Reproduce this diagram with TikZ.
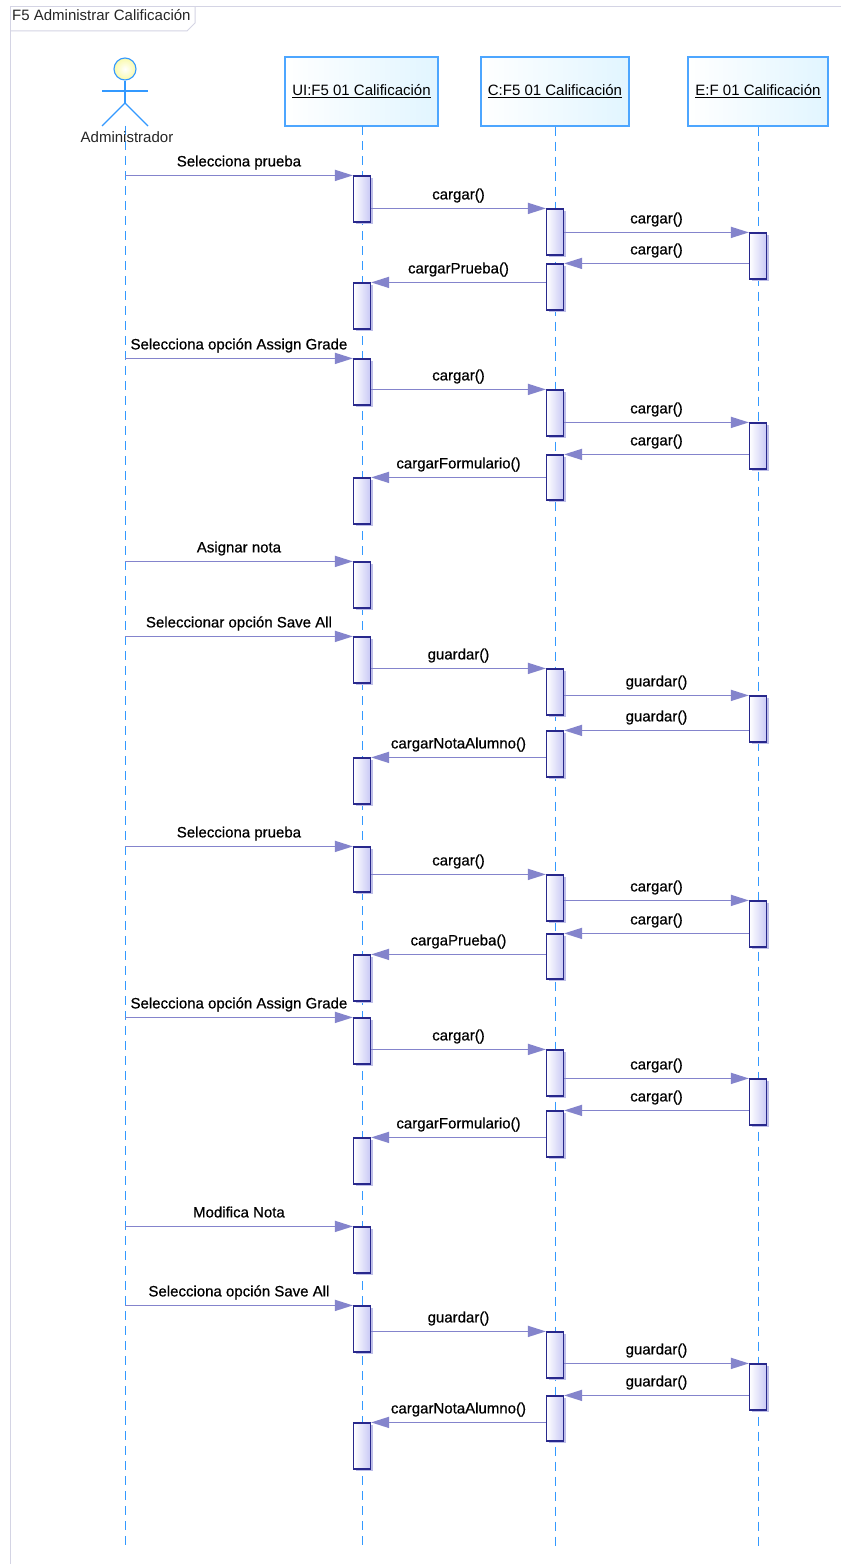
\documentclass[tikz,border=0pt]{standalone}
\usepackage{fontspec}
\setmainfont{Liberation Sans}
\newfontfamily\msgfont[FakeBold=0.6]{Liberation Sans}
\usetikzlibrary{arrows.meta,shadows,calc}
\definecolor{lifeblue}{RGB}{51,153,255}
\definecolor{boxblue}{RGB}{77,166,255}
\definecolor{msgc}{RGB}{132,132,204}
\definecolor{actborder}{RGB}{40,40,140}
\definecolor{actfill}{RGB}{200,200,245}
\definecolor{actshadow}{RGB}{190,190,232}
\definecolor{framec}{RGB}{212,212,228}
\definecolor{headfill}{RGB}{225,245,255}
\definecolor{headyellow}{RGB}{250,250,170}
\newcommand\actv[4]{\node[actbox, minimum height={(#4-#3)*1bp}] (#1) at (#2,{(#3+#4)/2}) {};}
\begin{document}
\begin{tikzpicture}[x=1bp,y=-1bp,
  every node/.style={font=\fontsize{15bp}{18bp}\selectfont},
  lifeline/.style={lifeblue, line width=1bp, dash pattern=on 9bp off 6bp},
  header/.style={draw=boxblue, line width=1.2bp, left color=white, right color=headfill, minimum width=#1, minimum height=69bp, inner sep=0pt},
  actbox/.style={draw=actborder, line width=1.2bp, left color=white, right color=actfill, minimum width=17bp, inner sep=0pt, drop shadow={shadow xshift=2bp, shadow yshift=-2bp, fill=actshadow, opacity=1}},
  msgline/.style={msgc, line width=1.5bp, -{Triangle[length=18bp,width=11bp]}},
  msglabel/.style={midway, anchor=base, yshift=9bp, text=black, inner sep=0pt, font=\msgfont\fontsize{15bp}{18bp}\selectfont},
  actorline/.style={lifeblue, line width=1.1bp},
]
\useasboundingbox[fill=white] (0,0) rectangle (840,1564);
% frame
\draw[framec, line width=1bp] (10,1570) -- (10,7) -- (845,7);
\draw[framec, line width=1bp] (10,31) -- (187,31) -- (195,23) -- (195,7);
\node[anchor=base west, text=black!85, inner sep=0pt] (title) at (12,21) {F5 Administrar Calificación};
\coordinate (bottom) at (0,1548);
% lifelines
\coordinate (admfoot) at (125,126);
\node[header=153bp] (ui) at (361.5,91.5) {\underline{UI:F5 01 Calificación}};
\node[header=148bp] (ctl) at (555,91.5) {\underline{C:F5 01 Calificación}};
\node[header=140bp] (ent) at (758,91.5) {\underline{E:F 01 Calificación}};
\coordinate (uil) at (362,126);
\draw[lifeline] (admfoot) -- (admfoot |- bottom);
\draw[lifeline] (uil) -- (uil |- bottom);
\draw[lifeline] (ctl.south) -- (ctl.south |- bottom);
\draw[lifeline] (ent.south) -- (ent.south |- bottom);
% actor
\node[circle, draw=lifeblue, line width=1.1bp, inner color=white, outer color=headyellow, minimum size=22bp, inner sep=0pt] (adm) at (125,69) {};
\coordinate (hip) at (125,103);
\draw[actorline] (adm.south) -- (hip);
\draw[actorline] (102,91) -- (148,91);
\draw[actorline] (102,126) -- (hip) -- (148,126);
\node[text=black!85, inner sep=0pt] (admlabel) at (127,137) {Administrador};
% activations
\actv{u1}{362}{176}{222}
\actv{c1}{555}{209}{255}
\actv{e1}{758}{233}{279}
\actv{c2}{555}{264}{310}
\actv{u2}{362}{283}{329}
\actv{u3}{362}{359}{405}
\actv{c3}{555}{390}{436}
\actv{e2}{758}{423}{469}
\actv{c4}{555}{455}{500}
\actv{u4}{362}{478}{524}
\actv{u5}{362}{562}{608}
\actv{u6}{362}{637}{683}
\actv{c5}{555}{669}{715}
\actv{e3}{758}{696}{742}
\actv{c6}{555}{731}{777}
\actv{u7}{362}{758}{804}
\actv{u8}{362}{847}{892}
\actv{c7}{555}{875}{921}
\actv{e4}{758}{901}{947}
\actv{c8}{555}{934}{979}
\actv{u9}{362}{955}{1001}
\actv{u10}{362}{1018}{1064}
\actv{c9}{555}{1050}{1096}
\actv{e5}{758}{1079}{1125}
\actv{c10}{555}{1111}{1157}
\actv{u11}{362}{1138}{1184}
\actv{u12}{362}{1227}{1273}
\actv{u13}{362}{1306}{1352}
\actv{c11}{555}{1332}{1378}
\actv{e6}{758}{1364}{1410}
\actv{c12}{555}{1396}{1441}
\actv{u14}{362}{1423}{1469}
% block 1
\draw[msgline] (admfoot |- u1.north) -- (u1.north west) node[msglabel]{Selecciona prueba};
\draw[msgline] (u1.east |- c1.north) -- (c1.north west) node[msglabel]{cargar()};
\draw[msgline] (c1.east |- e1.north) -- (e1.north west) node[msglabel]{cargar()};
\draw[msgline] (e1.west |- c2.north) -- (c2.north east) node[msglabel]{cargar()};
\draw[msgline] (c2.west |- u2.north) -- (u2.north east) node[msglabel]{cargarPrueba()};
% block 2
\draw[msgline] (admfoot |- u3.north) -- (u3.north west) node[msglabel]{Selecciona opción Assign Grade};
\draw[msgline] (u3.east |- c3.north) -- (c3.north west) node[msglabel]{cargar()};
\draw[msgline] (c3.east |- e2.north) -- (e2.north west) node[msglabel]{cargar()};
\draw[msgline] (e2.west |- c4.north) -- (c4.north east) node[msglabel]{cargar()};
\draw[msgline] (c4.west |- u4.north) -- (u4.north east) node[msglabel]{cargarFormulario()};
% block 3
\draw[msgline] (admfoot |- u5.north) -- (u5.north west) node[msglabel]{Asignar nota};
% block 4
\draw[msgline] (admfoot |- u6.north) -- (u6.north west) node[msglabel]{Seleccionar opción Save All};
\draw[msgline] (u6.east |- c5.north) -- (c5.north west) node[msglabel]{guardar()};
\draw[msgline] (c5.east |- e3.north) -- (e3.north west) node[msglabel]{guardar()};
\draw[msgline] (e3.west |- c6.north) -- (c6.north east) node[msglabel]{guardar()};
\draw[msgline] (c6.west |- u7.north) -- (u7.north east) node[msglabel]{cargarNotaAlumno()};
% block 5
\draw[msgline] (admfoot |- u8.north) -- (u8.north west) node[msglabel]{Selecciona prueba};
\draw[msgline] (u8.east |- c7.north) -- (c7.north west) node[msglabel]{cargar()};
\draw[msgline] (c7.east |- e4.north) -- (e4.north west) node[msglabel]{cargar()};
\draw[msgline] (e4.west |- c8.north) -- (c8.north east) node[msglabel]{cargar()};
\draw[msgline] (c8.west |- u9.north) -- (u9.north east) node[msglabel]{cargaPrueba()};
% block 6
\draw[msgline] (admfoot |- u10.north) -- (u10.north west) node[msglabel]{Selecciona opción Assign Grade};
\draw[msgline] (u10.east |- c9.north) -- (c9.north west) node[msglabel]{cargar()};
\draw[msgline] (c9.east |- e5.north) -- (e5.north west) node[msglabel]{cargar()};
\draw[msgline] (e5.west |- c10.north) -- (c10.north east) node[msglabel]{cargar()};
\draw[msgline] (c10.west |- u11.north) -- (u11.north east) node[msglabel]{cargarFormulario()};
% block 7
\draw[msgline] (admfoot |- u12.north) -- (u12.north west) node[msglabel]{Modifica Nota};
% block 8
\draw[msgline] (admfoot |- u13.north) -- (u13.north west) node[msglabel]{Selecciona opción Save All};
\draw[msgline] (u13.east |- c11.north) -- (c11.north west) node[msglabel]{guardar()};
\draw[msgline] (c11.east |- e6.north) -- (e6.north west) node[msglabel]{guardar()};
\draw[msgline] (e6.west |- c12.north) -- (c12.north east) node[msglabel]{guardar()};
\draw[msgline] (c12.west |- u14.north) -- (u14.north east) node[msglabel]{cargarNotaAlumno()};
\end{tikzpicture}
\end{document}
